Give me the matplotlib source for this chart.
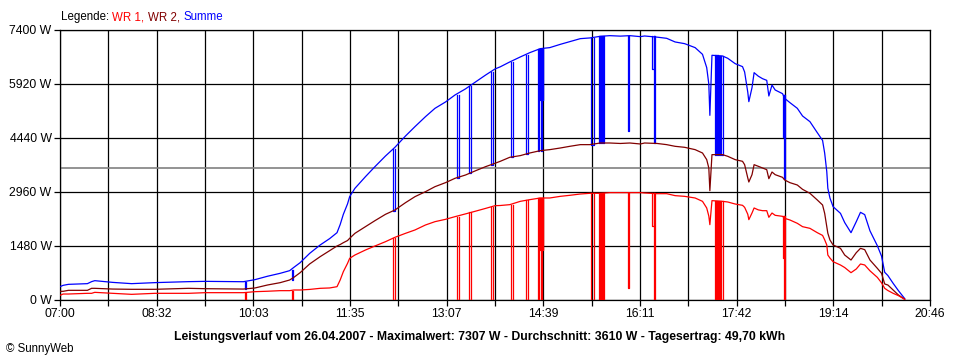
import numpy as np
import matplotlib.pyplot as plt

plt.rcParams['font.family'] = ['Liberation Sans', 'DejaVu Sans']

# Minuten nach 07:00
T = [0, 3, 8, 26, 30, 33, 50, 68, 90, 122, 138, 174, 185, 197, 209, 218, 222, 228,
     237, 247, 256, 263, 266, 269, 273, 275, 280, 290, 299, 309, 318, 328, 337, 347,
     356, 366, 375, 385, 394, 404, 413, 418, 427, 437, 446, 456, 465, 475, 484, 494,
     503, 513, 522, 532, 541, 551, 555, 567, 576, 584, 593, 603, 610, 614, 616, 617,
     619, 629, 634, 641, 648, 650, 653, 654, 657, 659, 663, 667, 671, 673, 676, 679,
     686, 688, 693, 700, 705, 712, 719, 724, 726, 728, 729, 731, 734, 741, 745, 751,
     756, 760, 764, 769, 776, 780, 783, 786, 791, 796, 802]
WR1 = [128, 164, 164, 183, 183, 210, 183, 155, 183, 183, 201, 201, 228, 240, 256, 256, 274, 274,
       290, 320, 330, 365, 548, 776, 1005, 1142, 1233, 1370, 1480, 1598, 1718, 1827, 1919, 2056,
       2147, 2211, 2284, 2360, 2430, 2510, 2585, 2590, 2613, 2704, 2750, 2796, 2796, 2841, 2869, 2905,
       2924, 2924, 2942, 2942, 2942, 2942, 2933, 2914, 2914, 2860, 2841, 2796, 2704, 2522, 2300, 2065,
       2723, 2704, 2686, 2631, 2595, 2540, 2350, 2202, 2384, 2522, 2470, 2448, 2448, 2266, 2384, 2321,
       2293, 2238, 2193, 2102, 2010, 1964, 1845, 1770, 1650, 1508, 1233, 1150, 1050, 959, 890, 749,
       850, 987, 960, 800, 620, 470, 320, 260, 183, 120, 19]
WR2 = [238, 238, 265, 265, 320, 320, 300, 293, 293, 320, 310, 300, 329, 411, 475, 548, 620, 749,
       987, 1188, 1352, 1480, 1520, 1571, 1630, 1690, 1827, 2010, 2174, 2348, 2467, 2667, 2832, 2969,
       3106, 3216, 3335, 3426, 3536, 3654, 3747, 3801, 3911, 3957, 4029, 4093, 4121, 4166, 4212, 4258,
       4258, 4303, 4303, 4290, 4303, 4276, 4303, 4290, 4258, 4212, 4185, 4121, 4029, 3847, 3618, 2996,
       3984, 3984, 3938, 3847, 3801, 3709, 3344, 3234, 3435, 3709, 3664, 3618, 3572, 3325, 3508, 3435,
       3362, 3289, 3216, 3152, 3033, 2924, 2741, 2604, 2375, 2010, 1830, 1645, 1508, 1416, 1233, 1096,
       1297, 1416, 1380, 1096, 868, 731, 439, 411, 274, 137, 19]

# Ausfaelle WR 1: Beginn (min), Dauer (min), Wert davor, Wert waehrend, WR 2 dabei
DROP_T = [175.2, 219.8, 316.0, 377.0, 388.3, 409.2, 428.2, 442.4, 453.7, 455.2, 456.6, 458.1,
          504.6, 511.7, 513.6, 515.5, 538.8, 562.5, 564.0, 621.4, 623.8, 626.0, 628.0, 686.4, 687.4]
DROP_W = [1.5, 1.3, 2.2, 2.0, 2.3, 1.8, 1.8, 2.0, 0.9, 0.9, 0.9, 0.9,
          2.0, 1.0, 1.0, 1.0, 1.5, 1.0, 1.0, 1.0, 1.0, 1.0, 1.0, 1.0, 1.0]
DROP_TOP = [201, 256, 1700, 2284, 2400, 2560, 2613, 2730, 2796, 2796, 2796, 2796,
            2924, 2924, 2924, 2924, 2942, 2933, 2933, 2723, 2723, 2710, 2704, 2293, 2293]
DROP_LOW = [0, 0, 0, 0, 0, 0, 0, 0, 0, 1380, 0, 1380,
            0, 0, 0, 0, 330, 2028, 0, 0, 0, 0, 0, 1150, 0]
DROP_WR2 = [300, 560, 2450, 3335, 3470, 3700, 3911, 3990, 4093, 4093, 4093, 4093,
            4258, 4303, 4303, 4303, 4303, 4300, 4300, 3984, 3984, 3984, 3984, 3330, 3330]

AVG = 3610
Y_TICKS = [0, 1480, 2960, 4440, 5920, 7400]
X_LABELS = ['07:00', '08:32', '10:03', '11:35', '13:07', '14:39', '16:11', '17:42', '19:14', '20:46']
X_END = 826

t = np.array(T)
wr1 = np.array(WR1)
wr2 = np.array(WR2)
summe = wr1 + wr2

RED = '#ff0000'
DARK = '#800000'
BLUE = '#0000ff'

fig = plt.figure(figsize=(9.6, 3.6), dpi=100)
ax = fig.add_axes([60 / 960, 60 / 360, 870 / 960, 270 / 360])

ax.axhline(AVG, color='#808080', lw=1.2, zorder=1)

ax.plot(t, summe, color=BLUE, lw=0.9, zorder=3)
ax.plot(t, wr2, color=DARK, lw=0.9, zorder=4)
ax.plot(t, wr1, color=RED, lw=0.9, zorder=5)

for t0, w, top, low, w2 in zip(DROP_T, DROP_W, DROP_TOP, DROP_LOW, DROP_WR2):
    xs = [t0, t0, t0 + w, t0 + w]
    ax.plot(xs, [top, low, low, top], color=RED, lw=0.9, zorder=5)
    ax.plot(xs, [top + w2, low + w2, low + w2, top + w2], color=BLUE, lw=0.9, zorder=3)

ax.set_xlim(0, X_END)
ax.set_ylim(0, Y_TICKS[-1])

grid_x = np.linspace(0, X_END, 19)
ax.set_xticks(grid_x[::2])
ax.set_xticklabels(X_LABELS)
ax.set_xticks(grid_x[1::2], minor=True)
ax.set_yticks(Y_TICKS)
ax.set_yticklabels([f'{v} W' for v in Y_TICKS])

ax.grid(True, which='both', axis='x', color='black', lw=0.9, zorder=0)
ax.grid(True, which='major', axis='y', color='black', lw=0.9, zorder=0)
ax.set_axisbelow(True)

for s in ax.spines.values():
    s.set_color('black')
    s.set_linewidth(0.9)

ax.tick_params(axis='both', which='both', direction='out', length=4, width=0.9,
               color='black', labelsize=8.8, pad=2)

# Legende oben, Teile nacheinander
renderer = fig.canvas.get_renderer()
parts = [('Legende: ', 'black'), ('WR 1, ', RED), ('WR 2, ', DARK), ('Summe', BLUE)]
x0 = 61 / 960
prefix = ''
for txt, col in parts:
    probe = fig.text(0, 0, prefix + '|', fontsize=8.3)
    bar = fig.text(0, 0, '|', fontsize=8.3)
    wpx = probe.get_window_extent(renderer=renderer).width - bar.get_window_extent(renderer=renderer).width
    probe.remove()
    bar.remove()
    if prefix == '':
        wpx = 0
    fig.text(x0 + wpx / fig.bbox.width, 1 - 17 / 360, txt, color=col, fontsize=8.3,
             va='center', ha='left')
    prefix += txt

fig.text(480 / 960, 1 - 337 / 360,
         'Leistungsverlauf vom 26.04.2007 - Maximalwert: 7307 W - Durchschnitt: 3610 W - Tagesertrag: 49,70 kWh',
         fontsize=8.8, fontweight='bold', ha='center', va='center')
fig.text(6 / 960, 1 - 349 / 360, '© SunnyWeb', fontsize=8.3, ha='left', va='center')

fig.savefig('out.png', dpi=100, facecolor='white')
